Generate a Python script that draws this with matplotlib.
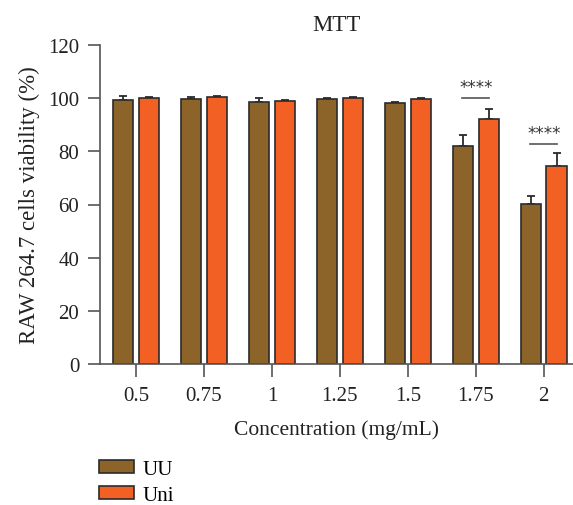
import matplotlib
matplotlib.use("Agg")
import matplotlib.pyplot as plt
import numpy as np

categories = ["0.5", "0.75", "1", "1.25", "1.5", "1.75", "2"]
uu_mean = [99.3, 99.7, 98.6, 99.7, 98.3, 82.0, 60.2]
uu_err = [1.7, 0.6, 1.4, 0.2, 0.4, 4.0, 3.0]
uni_mean = [100.0, 100.3, 99.0, 99.9, 99.6, 92.2, 74.4]
uni_err = [0.6, 0.7, 0.3, 0.4, 0.3, 3.8, 5.0]
sig_groups = [5, 6]
sig_levels = [100.0, 82.6]
sig_text = "****"

plt.rcParams['font.family'] = ['Liberation Serif', 'DejaVu Serif']

fig = plt.figure(figsize=(5.73, 5.06), dpi=100)
ax = fig.add_axes([100/573, 1-365/506, 1-100/573, (365-46)/506])

x = np.arange(len(categories))
w = 0.3
off = 0.19
c_uu = "#8c6329"
c_uni = "#f36024"
edge = "#2b2b2b"

b1 = ax.bar(x - off, uu_mean, w, color=c_uu, edgecolor=edge, linewidth=1.2, label="UU", zorder=2)
b2 = ax.bar(x + off, uni_mean, w, color=c_uni, edgecolor=edge, linewidth=1.2, label="Uni", zorder=2)
ax.errorbar(x - off, uu_mean, yerr=[np.zeros(len(x)), uu_err], fmt="none", ecolor=edge,
            elinewidth=1.3, capsize=3, capthick=1.3, zorder=1)
ax.errorbar(x + off, uni_mean, yerr=[np.zeros(len(x)), uni_err], fmt="none", ecolor=edge,
            elinewidth=1.3, capsize=3, capthick=1.3, zorder=1)

for g, lvl in zip(sig_groups, sig_levels):
    ax.plot([g - 0.2, g + 0.2], [lvl, lvl], color="#555555", lw=1.2)
    ax.text(g, lvl + 0.8, sig_text, ha="center", va="bottom", fontsize=12, color="#333333",
            family=['DejaVu Sans'])

ax.set_xlim(-0.53, 6.43)
ax.set_ylim(0, 120)
ax.set_yticks([0, 20, 40, 60, 80, 100, 120])
ax.set_xticks(x)
ax.set_xticklabels(categories)
for s in ["top", "right"]:
    ax.spines[s].set_visible(False)
for s in ["left", "bottom"]:
    ax.spines[s].set_color("#555555")
    ax.spines[s].set_linewidth(1.2)
ax.tick_params(axis="both", labelsize=15, colors="#555555", labelcolor="#222222", length=9, width=1.2, pad=6)
ax.tick_params(axis="x", length=9, pad=7)

ax.set_title("MTT", fontsize=16.5, color="#222222", pad=11)
ax.set_xlabel("Concentration (mg/mL)", fontsize=15.5, color="#222222", labelpad=10)
ax.set_ylabel("RAW 264.7 cells viability (%)", fontsize=16.5, color="#222222", labelpad=6)

fig.legend(handles=[b1, b2], labels=["UU", "Uni"], loc="upper left",
           bbox_to_anchor=(80/573, 1-442/506), frameon=False, fontsize=15,
           handlelength=1.7, handleheight=0.6, labelspacing=0.35, handletextpad=0.4)

fig.savefig("out.png", dpi=100)
